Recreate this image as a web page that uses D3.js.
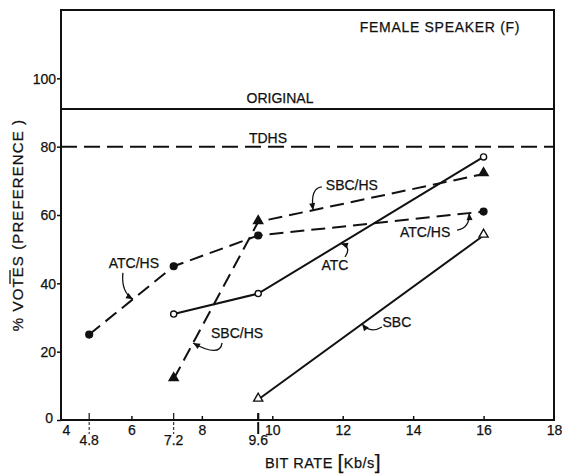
<!DOCTYPE html>
<html>
<head>
<meta charset="utf-8">
<script src="https://cdn.jsdelivr.net/npm/d3@7/dist/d3.min.js"></script>
<style>
  html, body { margin: 0; padding: 0; background: #fff; }
  svg { display: block; }
  text { font-family: "Liberation Sans", Arial, sans-serif; fill: #111; stroke: #111; stroke-width: 0.25px; }
</style>
</head>
<body>
<svg id="chart" width="562" height="476"></svg>
<script>
// Bit rate (kb/s) and % votes for each coder
const atcHsRate = [4.8, 7.2, 9.6, 16];
const atcHsVotes = [25, 45, 54, 61];
const sbcHsRate = [7.2, 9.6, 16];
const sbcHsVotes = [12, 58, 72];
const atcRate = [7.2, 9.6, 16];
const atcVotes = [31, 37, 77];
const sbcRate = [9.6, 16];
const sbcVotes = [6, 54];

// Reference levels
const originalLevel = 91;
const tdhsLevel = 80;

// Axis ticks
const xTicks = [4, 6, 8, 10, 12, 14, 16, 18];
const xRateTicks = [4.8, 7.2, 9.6];
const yTicks = [0, 20, 40, 60, 80, 100];

// Curve labels: text, series index, label centre (data units), target bit rate on the curve
const annoText = ["ATC/HS", "SBC/HS", "SBC/HS", "ATC/HS", "ATC", "SBC"];
const annoSeries = [0, 1, 1, 0, 2, 3];
const annoLabelX = [6.07, 9.0, 12.26, 14.34, 11.78, 13.54];
const annoLabelY = [46, 25.5, 68.8, 55, 45.4, 28.7];
const annoTargetX = [6.045, 7.75, 11.16, 15.59, 11.95, 12.55];

const series = [
  { rate: atcHsRate, votes: atcHsVotes, dashed: true, marker: "circle", filled: true },
  { rate: sbcHsRate, votes: sbcHsVotes, dashed: true, marker: "triangle", filled: true },
  { rate: atcRate, votes: atcVotes, dashed: false, marker: "circle", filled: false },
  { rate: sbcRate, votes: sbcVotes, dashed: false, marker: "triangle", filled: false }
];

const svg = d3.select("#chart");
const x = d3.scaleLinear().domain([4, 18]).range([61, 554]);
const y = d3.scaleLinear().domain([0, 120]).range([420, 10]);

const ink = "#111";
const fs = "14px";

// Frame
svg.append("rect")
  .attr("x", x(4)).attr("y", y(120))
  .attr("width", x(18) - x(4)).attr("height", y(0) - y(120))
  .attr("fill", "none").attr("stroke", ink).attr("stroke-width", 2);

// Y axis
const yAxis = d3.axisLeft(y).tickValues(yTicks).tickSize(4).tickPadding(2)
  .tickFormat(d3.format("d"));
const gy = svg.append("g").attr("transform", `translate(${x(4)},0)`).call(yAxis);
gy.select(".domain").remove();
gy.selectAll(".tick line").attr("stroke", ink).attr("stroke-width", 1.5);
gy.selectAll(".tick text")
  .style("font-size", fs)
  .attr("dy", d => d === 0 ? "0.2em" : "0.35em")
  .attr("x", d => d === 0 ? -8 : -5);

// X axis: small ticks pointing into the plot
const xAxis = d3.axisBottom(x).tickValues(xTicks).tickSize(-4).tickPadding(5)
  .tickFormat(d3.format("d"));
const gx = svg.append("g").attr("transform", `translate(0,${y(0)})`).call(xAxis);
gx.select(".domain").remove();
gx.selectAll(".tick line").attr("stroke", ink).attr("stroke-width", 1.5)
  .attr("opacity", d => (d === 4 || d === 18) ? 0 : 1);
gx.selectAll(".tick text")
  .style("font-size", fs)
  .attr("dx", d => d === 4 ? 5 : 0);

// Standard bit rates marked with long ticks crossing the axis
const gr = svg.append("g");
xRateTicks.forEach(r => {
  gr.append("line")
    .attr("x1", x(r)).attr("x2", x(r))
    .attr("y1", y(0) - 7).attr("y2", y(0) - 1)
    .attr("stroke", ink).attr("stroke-width", r === 9.6 ? 2.2 : 1.2);
  gr.append("line")
    .attr("x1", x(r)).attr("x2", x(r))
    .attr("y1", y(0) + 2).attr("y2", y(0) + 14)
    .attr("stroke", ink).attr("stroke-width", r === 9.6 ? 2 : 1)
    .attr("stroke-dasharray", r === 9.6 ? null : "3,2");
  gr.append("text")
    .attr("x", x(r)).attr("y", y(0) + 25)
    .attr("text-anchor", "middle")
    .style("font-size", fs)
    .text(d3.format(".1f")(r));
});

// X axis title
const xt = svg.append("text")
  .attr("x", 323).attr("y", 468)
  .attr("text-anchor", "middle")
  .style("font-size", "14.5px")
  .style("letter-spacing", "0.5px");
xt.append("tspan").text("BIT  RATE ");
xt.append("tspan").style("font-size", "21px").attr("dy", 1).text("[");
xt.append("tspan").attr("dy", -1).text("Kb/s");
xt.append("tspan").style("font-size", "21px").attr("dy", 1).text("]");

// Y axis title
svg.append("text")
  .attr("transform", `translate(23,${225}) rotate(-90)`)
  .attr("text-anchor", "middle")
  .style("font-size", "15px")
  .style("letter-spacing", "1.1px")
  .text("% VOTES (PREFERENCE )");
svg.append("line")
  .attr("x1", 10).attr("x2", 10).attr("y1", 270).attr("y2", 284)
  .attr("stroke", ink).attr("stroke-width", 1.3);

// Reference lines
svg.append("line")
  .attr("x1", x(4)).attr("x2", x(18))
  .attr("y1", y(originalLevel)).attr("y2", y(originalLevel))
  .attr("stroke", ink).attr("stroke-width", 2);
svg.append("line")
  .attr("x1", x(4)).attr("x2", x(18))
  .attr("y1", y(tdhsLevel)).attr("y2", y(tdhsLevel))
  .attr("stroke", ink).attr("stroke-width", 2)
  .attr("stroke-dasharray", "16,7");

svg.append("text")
  .attr("x", 280).attr("y", y(originalLevel) - 6)
  .attr("text-anchor", "middle")
  .style("font-size", fs)
  .text("ORIGINAL");
svg.append("text")
  .attr("x", 268).attr("y", y(tdhsLevel) - 4)
  .attr("text-anchor", "middle")
  .style("font-size", fs)
  .text("TDHS");
svg.append("text")
  .attr("x", 440).attr("y", 32)
  .attr("text-anchor", "middle")
  .style("font-size", fs)
  .style("letter-spacing", "0.7px")
  .text("FEMALE  SPEAKER (F)");

// Curves
const line = d3.line().x(d => x(d[0])).y(d => y(d[1]));
series.forEach(s => {
  const pts = s.rate.map((r, i) => [r, s.votes[i]]);
  svg.append("path")
    .attr("d", line(pts))
    .attr("fill", "none").attr("stroke", ink).attr("stroke-width", 2)
    .attr("stroke-dasharray", s.dashed ? "14,7" : null);
});

// Markers
series.forEach(s => {
  const pts = s.rate.map((r, i) => [r, s.votes[i]]);
  const sym = d3.symbol()
    .type(s.marker === "circle" ? d3.symbolCircle : d3.symbolTriangle)
    .size(s.marker === "circle" ? (s.filled ? 36 : 30) : 36);
  svg.append("g").selectAll("path").data(pts).join("path")
    .attr("transform", d => `translate(${x(d[0])},${y(d[1]) + (s.marker === "triangle" ? -1 : 0)})`)
    .attr("d", sym)
    .attr("fill", s.filled ? ink : "#fff")
    .attr("stroke", ink).attr("stroke-width", 1.4);
});

// Curve labels with hooked leaders
const leaderStart = [[-11, 10], [-15, 10], [-30, 2], [32, -2], [10, -8], [-15, 5]];
const leaderCtrl = [[121, 292], [220, 358], [310, 188], [470, 228], [352, 247], [370, 334]];
function valueAt(s, r) {
  const i = d3.bisectRight(s.rate, r) - 1;
  const j = Math.min(i + 1, s.rate.length - 1);
  const t = (r - s.rate[i]) / (s.rate[j] - s.rate[i]);
  return s.votes[i] + t * (s.votes[j] - s.votes[i]);
}
annoText.forEach((t, k) => {
  const lx = x(annoLabelX[k]), ly = y(annoLabelY[k]);
  svg.append("text")
    .attr("x", lx).attr("y", ly).attr("dy", "0.36em")
    .attr("text-anchor", "middle")
    .style("font-size", fs)
    .text(t);
  const s = series[annoSeries[k]];
  const tx = x(annoTargetX[k]), ty = y(valueAt(s, annoTargetX[k]));
  const sx = lx + leaderStart[k][0], sy = ly + leaderStart[k][1];
  const c = leaderCtrl[k];
  svg.append("path")
    .attr("d", `M${sx},${sy} Q${c[0]},${c[1]} ${tx},${ty}`)
    .attr("fill", "none").attr("stroke", ink).attr("stroke-width", 1.3);
  // arrowhead pointing onto the curve
  const ang = Math.atan2(ty - c[1], tx - c[0]);
  const L = 7, W = 3;
  const bx = tx - L * Math.cos(ang), by = ty - L * Math.sin(ang);
  svg.append("path")
    .attr("d", `M${tx},${ty} L${bx + W * Math.sin(ang)},${by - W * Math.cos(ang)} L${bx - W * Math.sin(ang)},${by + W * Math.cos(ang)} Z`)
    .attr("fill", ink);
});
</script>
</body>
</html>
